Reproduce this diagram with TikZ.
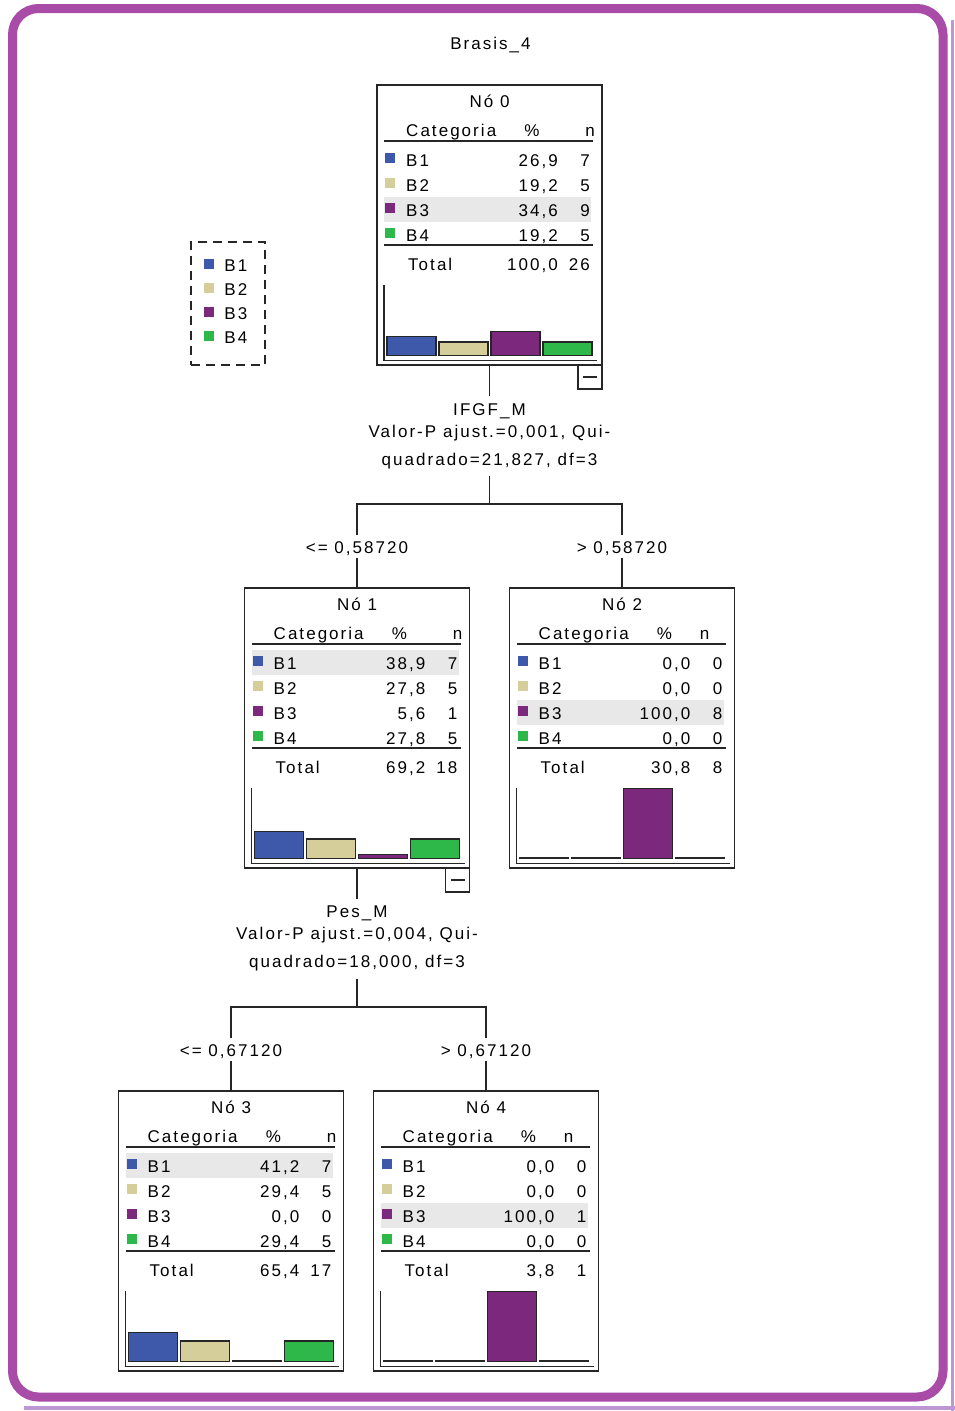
\documentclass[tikz,border=0pt]{standalone}
\usepackage{fontspec}
\newfontfamily\spssfamily[LetterSpace=12]{Liberation Sans}
\usetikzlibrary{positioning}

\definecolor{framepurple}{RGB}{168,76,168}
\definecolor{frameshade}{RGB}{190,150,212}
\definecolor{cat1}{RGB}{62,88,170}
\definecolor{cat2}{RGB}{214,206,154}
\definecolor{cat3}{RGB}{124,40,124}
\definecolor{cat4}{RGB}{46,184,74}
\definecolor{rowgray}{RGB}{232,232,232}

\newcommand{\spsstext}{\spssfamily\fontsize{17}{22}\selectfont}

% table and bar chart inside a tree node
% #1 node, #2 title, #3 highlighted row, #4 rows pct/n, #5 total pct, #6 total n, #7 x of n header
\newcommand{\nodetable}[7]{%
  \begin{scope}[shift={(#1.north west)}]
    \fill[rowgray] (7,{37+25*#3}) rectangle (214,{62+25*#3});
    \node[lbl,anchor=base] (#1-title) at (112.5,22) {#2};
    \node[lbl,anchor=base west] (#1-cat) at (29,51) {Categoria};
    \node[lbl,anchor=base] (#1-pct) at (155,51) {\%};
    \node[lbl,anchor=base] (#1-n) at (#7,51) {n};
    \draw[rule] (7,56) -- (216,56);
    \foreach \pct/\cnt [count=\i] in {#4} {
      \pgfmathsetmacro\base{56+25*\i}
      \pgfmathsetmacro\bh{max(70*\cnt/#6,1)}
      \fill[cat\i] (8,\base-13) rectangle +(10,10);
      \node[lbl,anchor=base west] (#1-b\i) at (29,\base) {B\i};
      \node[lbl,anchor=base east] at (181,\base) {\pct};
      \node[lbl,anchor=base east] at (213,\base) {\cnt};
      \filldraw[fill=cat\i,bar] ({10+52*(\i-1)},270.5) rectangle +(49,-\bh);
    }
    \draw[rule] (7,160) -- (216,160);
    \node[lbl,anchor=base west] (#1-tot) at (31,185) {Total};
    \node[lbl,anchor=base east] at (181,185) {#5};
    \node[lbl,anchor=base east] at (213,185) {#6};
    \draw[rule] (7,200) -- (7,275.5) -- (220,275.5);
  \end{scope}}

\begin{document}
\begin{tikzpicture}[x=1pt,y=-1pt,
    lbl/.style={inner sep=0pt,font=\spsstext},
    rule/.style={line width=1.5pt,draw=black!85},
    bar/.style={line width=1.5pt,draw=black!85},
    link/.style={line width=1.5pt,draw=black!85},
    treebox/.style={draw=black!85,line width=1.5pt,minimum width=225pt,minimum height=280pt,inner sep=0pt,outer sep=0pt},
    collapse/.style={draw=black!85,line width=1.5pt,minimum size=24pt,inner sep=0pt,outer sep=0pt},
    splitlbl/.style={lbl,align=center,inner xsep=0pt,inner ysep=7pt},
    condlbl/.style={lbl,inner ysep=4pt,text height=15pt,text depth=0pt},
    legendbox/.style={draw=black!85,line width=1.5pt,dash pattern=on 9pt off 6pt,minimum width=74pt,minimum height=123pt,inner sep=0pt}]
  \useasboundingbox (0,0) rectangle (955,1411);

  % frame
  \draw[frameshade,line width=3pt] (952,20) -- (952,1411);
  \draw[frameshade,line width=3.5pt] (24,1408) -- (955,1408);
  \draw[framepurple,line width=9pt,rounded corners=26pt] (12.5,8.5) rectangle (943,1397);

  \node[lbl,anchor=base] (title) at (490.5,49) {Brasis\_4};

  % legend
  \node[legendbox] (legend) at (228,303.5) {};
  \begin{scope}[shift={(legend.north west)}]
    \foreach \i in {1,...,4} {
      \fill[cat\i] (14,{18+24*(\i-1)}) rectangle +(10,10);
      \node[lbl,anchor=base west] (legend-b\i) at (34,{30+24*(\i-1)}) {B\i};
    }
  \end{scope}

  % tree nodes
  \node[treebox] (n0) at (489.5,225) {};
  \node[treebox] (n1) at (357,728) {};
  \node[treebox] (n2) at (622,728) {};
  \node[treebox] (n3) at (231,1231) {};
  \node[treebox] (n4) at (486,1231) {};

  \nodetable{n0}{Nó 0}{3}{{26,9}/7,{19,2}/5,{34,6}/9,{19,2}/5}{100,0}{26}{213}
  \nodetable{n1}{Nó 1}{1}{{38,9}/7,{27,8}/5,{5,6}/1,{27,8}/5}{69,2}{18}{213}
  \nodetable{n2}{Nó 2}{3}{{0,0}/0,{0,0}/0,{100,0}/8,{0,0}/0}{30,8}{8}{195}
  \nodetable{n3}{Nó 3}{1}{{41,2}/7,{29,4}/5,{0,0}/0,{29,4}/5}{65,4}{17}{213}
  \nodetable{n4}{Nó 4}{3}{{0,0}/0,{0,0}/0,{100,0}/1,{0,0}/0}{3,8}{1}{195}

  \node[collapse,anchor=north east] (n0m) at (n0.south east) {};
  \draw[rule] ([xshift=-7pt]n0m.center) -- ([xshift=7pt]n0m.center);
  \node[collapse,anchor=north east] (n1m) at (n1.south east) {};
  \draw[rule] ([xshift=-7pt]n1m.center) -- ([xshift=7pt]n1m.center);

  % first split
  \node[splitlbl,below=31pt of n0] (s0) {IFGF\_M\\Valor-P ajust.=0,001, Qui-\\[6pt]quadrado=21,827, df=3};
  \coordinate (j0) at (489.5,504);
  \node[condlbl,above=30pt of n1] (c1) {<= 0,58720};
  \node[condlbl,above=30pt of n2] (c2) {> 0,58720};
  \draw[link] (n0.south) -- (s0.north);
  \draw[link] (s0.south) -- (j0);
  \draw[link] (c1.north) |- (j0) -| (c2.north);
  \draw[link] (c1.south) -- (n1.north);
  \draw[link] (c2.south) -- (n2.north);

  % second split
  \node[splitlbl,below=31pt of n1] (s1) {Pes\_M\\Valor-P ajust.=0,004, Qui-\\[6pt]quadrado=18,000, df=3};
  \coordinate (j1) at (357,1007);
  \node[condlbl,above=30pt of n3] (c3) {<= 0,67120};
  \node[condlbl,above=30pt of n4] (c4) {> 0,67120};
  \draw[link] (n1.south) -- (s1.north);
  \draw[link] (s1.south) -- (j1);
  \draw[link] (c3.north) |- (j1) -| (c4.north);
  \draw[link] (c3.south) -- (n3.north);
  \draw[link] (c4.south) -- (n4.north);
\end{tikzpicture}
\end{document}
